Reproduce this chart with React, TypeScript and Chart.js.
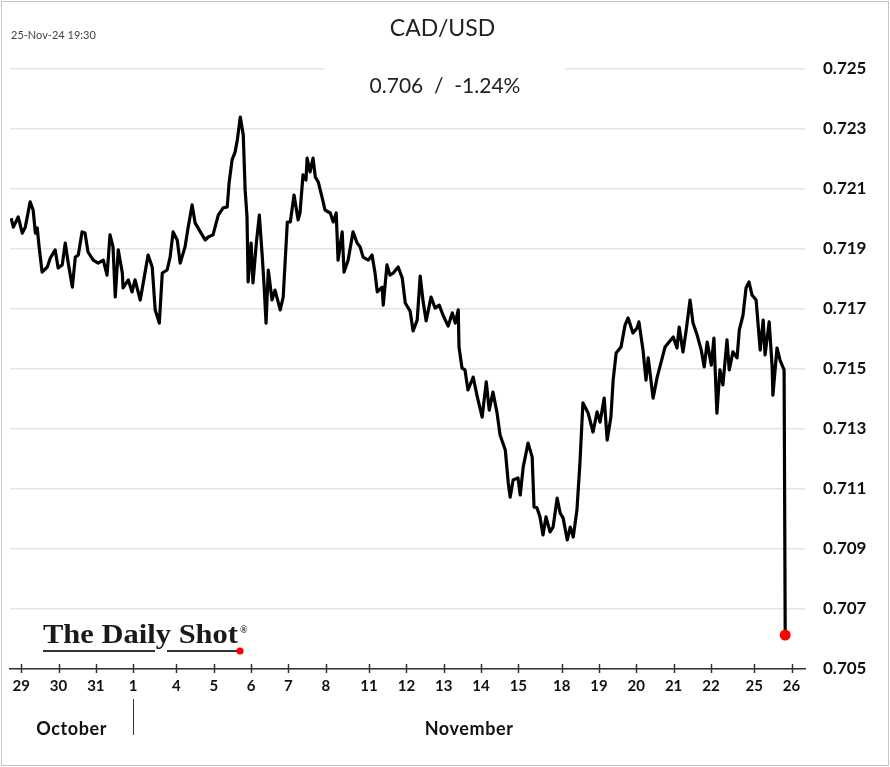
import React, { useEffect, useRef } from "react";
import { Chart, registerables } from "chart.js";
Chart.register(...registerables);

const TIMESTAMP = "25-Nov-24 19:30";
const TITLE = "CAD/USD";
const SUBTITLE = "0.706  /  -1.24%";
const SOURCE = "The Daily Shot";

// x axis in trading-day units (weekend adds a short gap)
const DAY_LABELS = ["29", "30", "31", "1", "4", "5", "6", "7", "8", "11", "12", "13", "14", "15", "18", "19", "20", "21", "22", "25", "26"];
const DAY_POS = [0, 1, 2, 3, 4.16, 5.16, 6.16, 7.16, 8.16, 9.32, 10.32, 11.32, 12.32, 13.32, 14.48, 15.48, 16.48, 17.48, 18.48, 19.64, 20.64];
const MONTHS = ["October", "November"];
const MONTH_START = [-0.3, 3];
const X_MIN = -0.3;
const X_MAX = 21.0;
const Y_MIN = 0.705;
const Y_MAX = 0.725;
const Y_STEP = 0.002;

const T = [-0.27,-0.21,-0.08,0.03,0.11,0.24,0.32,0.38,0.43,0.48,0.56,0.70,0.78,0.91,0.99,1.10,1.18,1.26,1.37,1.45,1.53,1.63,1.71,1.79,1.93,2.06,2.20,2.30,2.38,2.46,2.52,2.60,2.71,2.73,2.87,2.97,3.05,3.19,3.27,3.40,3.51,3.59,3.70,3.78,3.91,3.99,4.07,4.18,4.26,4.39,4.47,4.58,4.66,4.80,4.93,5.01,5.14,5.28,5.41,5.52,5.57,5.65,5.73,5.79,5.87,5.95,6.00,6.05,6.08,6.16,6.21,6.30,6.38,6.46,6.51,6.56,6.62,6.72,6.80,6.94,7.02,7.13,7.21,7.31,7.42,7.47,7.55,7.63,7.66,7.74,7.82,7.88,7.96,8.06,8.14,8.28,8.36,8.44,8.49,8.60,8.65,8.76,8.89,9.00,9.08,9.16,9.30,9.40,9.48,9.54,9.67,9.70,9.80,9.88,9.97,10.10,10.21,10.29,10.42,10.50,10.61,10.69,10.77,10.85,10.98,11.09,11.20,11.30,11.44,11.55,11.63,11.71,11.73,11.81,11.89,11.97,12.11,12.22,12.35,12.46,12.54,12.64,12.75,12.83,12.97,13.05,13.10,13.18,13.31,13.37,13.45,13.58,13.69,13.74,13.82,13.90,13.98,14.06,14.17,14.25,14.36,14.44,14.52,14.63,14.71,14.79,14.89,14.97,15.05,15.19,15.32,15.43,15.51,15.62,15.70,15.80,15.86,15.94,16.07,16.18,16.26,16.39,16.50,16.55,16.66,16.74,16.80,16.93,17.04,17.25,17.36,17.47,17.57,17.63,17.73,17.81,17.92,18.00,18.11,18.22,18.30,18.38,18.49,18.56,18.64,18.72,18.80,18.91,18.97,19.07,19.18,19.24,19.34,19.42,19.50,19.58,19.69,19.80,19.88,19.93,20.04,20.12,20.14,20.25,20.33,20.44,20.47];

const CADUSD = [0.72003,0.71973,0.72007,0.71953,0.71973,0.72057,0.72030,0.71953,0.71970,0.71907,0.71823,0.71840,0.71870,0.71897,0.71837,0.71847,0.71920,0.71853,0.71773,0.71873,0.71880,0.71957,0.71953,0.71890,0.71863,0.71853,0.71863,0.71813,0.71947,0.71907,0.71740,0.71897,0.71820,0.71770,0.71797,0.71757,0.71797,0.71730,0.71787,0.71880,0.71840,0.71697,0.71653,0.71820,0.71830,0.71873,0.71957,0.71930,0.71853,0.71907,0.71970,0.72047,0.71987,0.71957,0.71930,0.71940,0.71947,0.72013,0.72037,0.72040,0.72120,0.72197,0.72223,0.72263,0.72340,0.72280,0.72097,0.72007,0.71790,0.71920,0.71787,0.71920,0.72013,0.71873,0.71773,0.71653,0.71830,0.71730,0.71763,0.71697,0.71740,0.71990,0.71990,0.72080,0.71997,0.72020,0.72147,0.72130,0.72203,0.72157,0.72203,0.72140,0.72123,0.72073,0.72030,0.72020,0.71990,0.72020,0.71863,0.71957,0.71823,0.71863,0.71957,0.71920,0.71907,0.71873,0.71863,0.71880,0.71820,0.71757,0.71773,0.71713,0.71847,0.71813,0.71820,0.71840,0.71803,0.71720,0.71693,0.71627,0.71663,0.71810,0.71723,0.71660,0.71740,0.71703,0.71713,0.71680,0.71643,0.71687,0.71653,0.71697,0.71573,0.71503,0.71497,0.71430,0.71473,0.71407,0.71340,0.71457,0.71363,0.71423,0.71353,0.71280,0.71230,0.71120,0.71073,0.71130,0.71137,0.71080,0.71173,0.71253,0.71207,0.71040,0.71037,0.71007,0.70947,0.71007,0.70957,0.70973,0.71070,0.71020,0.71003,0.70930,0.70973,0.70940,0.71030,0.71187,0.71387,0.71353,0.71290,0.71357,0.71323,0.71403,0.71263,0.71340,0.71463,0.71553,0.71573,0.71647,0.71670,0.71620,0.71637,0.71657,0.71563,0.71463,0.71537,0.71403,0.71473,0.71573,0.71590,0.71607,0.71570,0.71640,0.71557,0.71623,0.71730,0.71653,0.71613,0.71563,0.71507,0.71590,0.71513,0.71603,0.71353,0.71497,0.71447,0.71597,0.71497,0.71557,0.71537,0.71630,0.71680,0.71770,0.71790,0.71747,0.71730,0.71563,0.71663,0.71547,0.71657,0.71507,0.71413,0.71570,0.71530,0.71497,0.70613];

const FONT = "Lato, 'Open Sans', sans-serif";

const decor = {
  id: "decor",
  beforeDatasetsDraw(chart: any) {
    const ctx = chart.ctx;
    const { width } = chart;
    ctx.save();
    // white box behind the subtitle, interrupting the top gridline
    ctx.fillStyle = "#ffffff";
    ctx.fillRect(324, 52, 241, 48);
    ctx.fillStyle = "#222";
    ctx.font = `21px ${FONT}`;
    ctx.textAlign = "center";
    ctx.textBaseline = "alphabetic";
    ctx.fillText(SUBTITLE, width / 2, 93);
    ctx.restore();
  },
  afterDraw(chart: any) {
    const ctx = chart.ctx;
    const area = chart.chartArea;
    const xs = chart.scales.x;
    const { width, height } = chart;
    ctx.save();

    // tick marks crossing the x axis
    ctx.strokeStyle = "#333";
    ctx.lineWidth = 1.5;
    DAY_POS.forEach((v) => {
      const px = Math.round(xs.getPixelForValue(v)) + 0.5;
      ctx.beginPath();
      ctx.moveTo(px, area.bottom - 5);
      ctx.lineTo(px, area.bottom + 4);
      ctx.stroke();
    });

    // month labels + separator
    ctx.fillStyle = "#111";
    ctx.font = `bold 18px ${FONT}`;
    (ctx as any).letterSpacing = "0.6px";
    ctx.textAlign = "center";
    ctx.textBaseline = "alphabetic";
    MONTHS.forEach((m, i) => {
      const a = MONTH_START[i];
      const b = i + 1 < MONTH_START.length ? MONTH_START[i + 1] : X_MAX;
      const cx = (xs.getPixelForValue(a) + xs.getPixelForValue(b)) / 2;
      ctx.fillText(m, cx, area.bottom + 66);
    });
    (ctx as any).letterSpacing = "0px";
    ctx.lineWidth = 1;
    for (let i = 1; i < MONTH_START.length; i++) {
      const px = Math.round(xs.getPixelForValue(MONTH_START[i])) + 0.5;
      ctx.beginPath();
      ctx.moveTo(px, area.bottom + 30);
      ctx.lineTo(px, area.bottom + 66);
      ctx.stroke();
    }

    // timestamp
    ctx.fillStyle = "#444";
    ctx.font = `11px ${FONT}`;
    ctx.textAlign = "left";
    ctx.fillText(TIMESTAMP, 11, 39);

    // source logo
    const lx = area.left + 33;
    const ly = area.bottom - 26;
    ctx.font = `bold 27px 'Liberation Serif', serif`;
    const w = ctx.measureText(SOURCE).width;
    ctx.save();
    ctx.translate(lx, ly);
    ctx.scale(195 / w, 1);
    ctx.fillStyle = "#1a1a1a";
    ctx.fillText(SOURCE, 0, 0);
    ctx.restore();
    ctx.font = `bold 10px 'Liberation Serif', serif`;
    ctx.fillStyle = "#222";
    ctx.fillText("®", lx + 197, ly - 10);
    ctx.strokeStyle = "#333";
    ctx.lineWidth = 2.2;
    ctx.beginPath();
    ctx.moveTo(lx, ly + 8);
    ctx.lineTo(lx + 112, ly + 8);
    ctx.moveTo(lx + 124, ly + 8);
    ctx.lineTo(lx + 194, ly + 8);
    ctx.stroke();
    ctx.fillStyle = "#ff0000";
    ctx.beginPath();
    ctx.arc(lx + 197, ly + 8, 3.6, 0, Math.PI * 2);
    ctx.fill();

    // frame
    ctx.strokeStyle = "#c4c4c4";
    ctx.lineWidth = 1;
    ctx.strokeRect(1.5, 1.5, width - 3, height - 3);
    ctx.restore();
  },
};

export default function App() {
  const ref = useRef<HTMLCanvasElement | null>(null);
  useEffect(() => {
    document.body.style.margin = "0";
    const canvas = ref.current;
    if (!canvas) return;
    const last = CADUSD.length - 1;
    const chart = new Chart(canvas, {
      type: "line",
      data: {
        datasets: [
          {
            label: TITLE,
            data: T.map((t, i) => ({ x: t, y: CADUSD[i] })),
            borderColor: "#000",
            borderWidth: 3.2,
            borderJoinStyle: "round",
            tension: 0,
            pointRadius: (c: any) => (c.dataIndex === last ? 5.5 : 0),
            pointBackgroundColor: "#ff0000",
            pointBorderColor: "#ff0000",
            pointBorderWidth: 0,
          },
        ],
      },
      options: {
        responsive: false,
        animation: false,
        layout: { padding: { left: 10, right: 15, top: 0, bottom: 0 } },
        plugins: {
          legend: { display: false },
          tooltip: { enabled: false },
          title: {
            display: true,
            text: TITLE,
            color: "#222",
            font: { family: FONT, size: 23, weight: "normal" },
            padding: { top: 15, bottom: 26.4 },
          },
        },
        scales: {
          x: {
            type: "linear",
            min: X_MIN,
            max: X_MAX,
            afterBuildTicks: (s: any) => {
              s.ticks = DAY_POS.map((v) => ({ value: v }));
            },
            afterFit: (s: any) => {
              s.height = 98;
            },
            ticks: {
              autoSkip: false,
              maxRotation: 0,
              padding: 8,
              color: "#111",
              font: { family: FONT, size: 15, weight: "bold" },
              callback: (_v: any, i: number) => DAY_LABELS[i],
            },
            grid: { display: true, drawOnChartArea: false, drawTicks: false },
            border: { display: true, color: "#333", width: 1.5 },
          },
          y: {
            position: "right",
            min: Y_MIN,
            max: Y_MAX,
            afterFit: (s: any) => {
              s.width = 70;
            },
            ticks: {
              stepSize: Y_STEP,
              padding: 18,
              color: "#111",
              font: { family: FONT, size: 17, weight: "bold" },
              callback: (v: any) => Number(v).toFixed(3),
            },
            grid: { color: "#e4e4e4", lineWidth: 1.5, drawTicks: false },
            border: { display: false },
          },
        },
      },
      plugins: [decor],
    });
    return () => chart.destroy();
  }, []);
  return (
    <div style={{ width: 890, height: 767, background: "#fff" }}>
      <canvas ref={ref} width={890} height={767} />
    </div>
  );
}
